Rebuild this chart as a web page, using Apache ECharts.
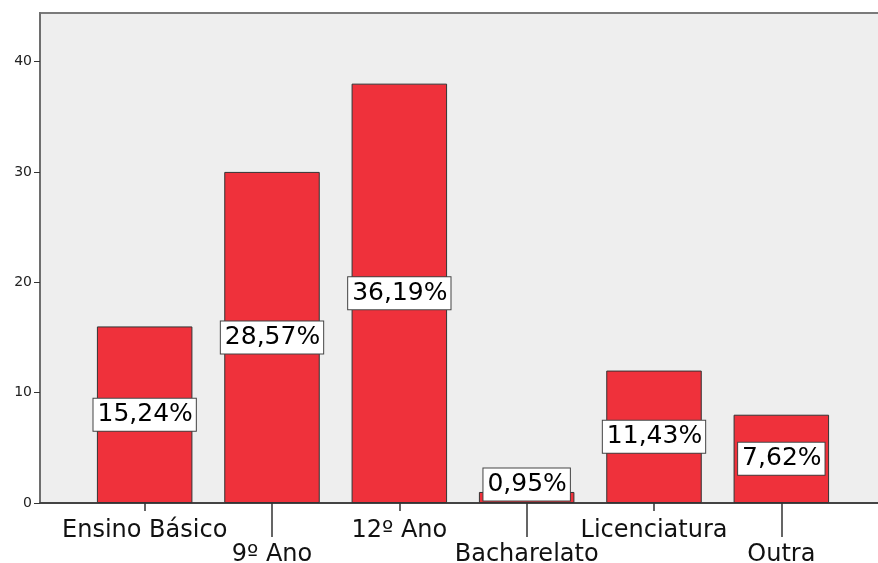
<!DOCTYPE html>
<html>
<head>
<meta charset="utf-8">
<script src="https://cdn.jsdelivr.net/npm/echarts@6/dist/echarts.min.js"></script>
<style>
  html, body { margin: 0; padding: 0; background: #fff; }
  #chart { width: 878px; height: 563px; }
</style>
</head>
<body>
<div id="chart"></div>
<script>
var categories = ['Ensino Básico', '9º Ano', '12º Ano', 'Bacharelato', 'Licenciatura', 'Outra'];
var counts = [16, 30, 38, 1, 12, 8];
var yTicks = [0, 10, 20, 30, 40];

var total = counts.reduce(function (a, b) { return a + b; }, 0);
var font = 'DejaVu Sans, Liberation Sans, sans-serif';

var barData = counts.map(function (v, i) {
    var item = { value: v };
    // the tiny bar: its label box sits on the axis
    if (v < 3) item.label = { offset: [0, -13] };
    return item;
});

var myChart = echarts.init(document.getElementById('chart'));

myChart.setOption({
    animation: false,
    grid: [
        // background frame with the visible y axis
        { left: 40, top: 13, right: -3, bottom: 60, outerBoundsMode: 'none', show: true, backgroundColor: '#eeeeee', borderColor: '#7a7a7a', borderWidth: 2 },
        // bars
        { left: 81, top: 13, right: 33, bottom: 60, outerBoundsMode: 'none' }
    ],
    xAxis: [
        {
            type: 'value', gridIndex: 0, min: 0, max: 1, position: 'bottom',
            axisLine: { show: true, lineStyle: { color: '#333', width: 1.5 } },
            axisTick: { show: false }, axisLabel: { show: false }, splitLine: { show: false }
        },
        {
            type: 'category', gridIndex: 1, data: categories, position: 'bottom',
            axisLine: { show: false },
            axisTick: { show: true, alignWithLabel: true, length: 8, lineStyle: { color: '#333', width: 1.5 } },
            axisLabel: {
                interval: 0, margin: 16, color: '#111', fontFamily: font, fontSize: 24, lineHeight: 24,
                formatter: function (v, i) { return i % 2 === 1 ? '\n' + v : v; }
            }
        },
        {
            type: 'category', gridIndex: 1, data: categories, position: 'bottom',
            axisLine: { show: false },
            axisLabel: { show: false },
            axisTick: {
                show: true, alignWithLabel: true, length: 34,
                interval: function (i) { return i % 2 === 1; },
                lineStyle: { color: '#333', width: 1.5 }
            }
        }
    ],
    yAxis: [
        {
            type: 'value', gridIndex: 0, min: 0, max: 44.4, interval: 10,
            splitLine: { show: false },
            axisLine: { show: true, lineStyle: { color: '#6e6e6e', width: 2 } },
            axisTick: { show: true, length: 6, lineStyle: { color: '#333' } },
            axisLabel: {
                margin: 8, color: '#222', fontFamily: font, fontSize: 14, showMaxLabel: false,
                formatter: function (v) { return yTicks.indexOf(v) >= 0 ? String(v) : ''; }
            }
        },
        { type: 'value', gridIndex: 1, min: 0, max: 44.4, show: false }
    ],
    series: [{
        type: 'bar',
        xAxisIndex: 1,
        yAxisIndex: 1,
        barWidth: '75%',
        data: barData,
        itemStyle: { color: '#ef313b', borderColor: '#333', borderWidth: 1 },
        label: {
            show: true,
            position: 'inside',
            color: '#000',
            fontFamily: font,
            fontSize: 25,
            lineHeight: 26,
            backgroundColor: '#fff',
            borderColor: '#444',
            borderWidth: 1,
            padding: [4, 3, 2, 4],
            formatter: function (p) {
                return (p.value / total * 100).toFixed(2).replace('.', ',') + '%';
            }
        }
    }]
});
</script>
</body>
</html>
